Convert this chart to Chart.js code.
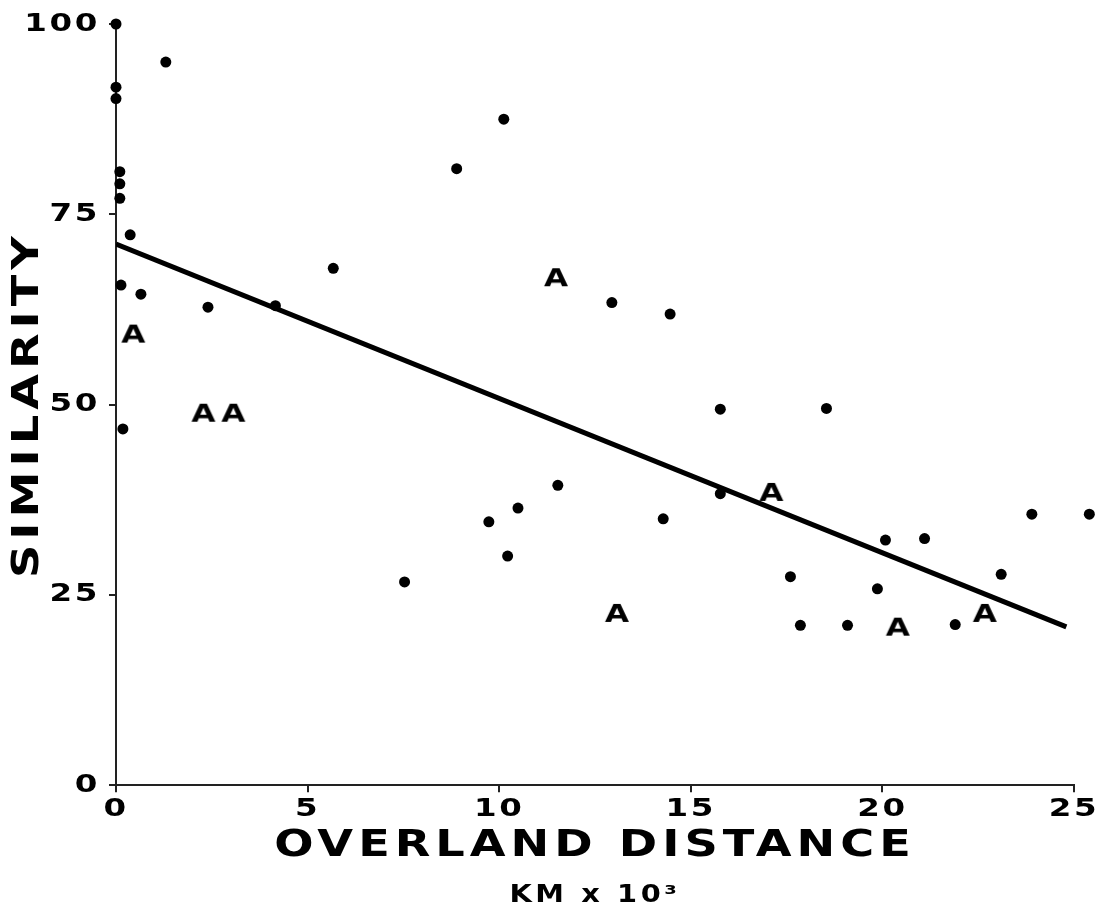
<!DOCTYPE html>
<html>
<head>
<meta charset="utf-8">
<script src="https://cdn.jsdelivr.net/npm/chart.js@4.4.1/dist/chart.umd.min.js"></script>
<style>
  body { margin: 0; background: #fff; }
  #wrap { width: 1101px; height: 910px; }
</style>
</head>
<body>
<div id="wrap"><canvas id="grafico"></canvas></div>
<script>
// pontos: distancia (km x 10^3) e similaridade
const dotX = [0, 1.3, 0, 0, 0.1, 0.1, 0.1, 0.37, 0.13, 0.65, 2.4, 4.16, 0.18, 5.67, 8.89, 10.12,
  12.94, 14.46, 7.53, 9.73, 10.49, 10.22, 11.53, 14.28, 15.77, 18.54, 15.77, 23.9, 25.4,
  20.08, 21.1, 17.6, 19.87, 23.1, 17.86, 19.09, 21.9];
const dotY = [100, 95, 91.7, 90.2, 80.6, 79, 77.1, 72.3, 65.7, 64.5, 62.8, 63, 46.8, 67.9, 81, 87.5,
  63.4, 61.9, 26.7, 34.6, 36.4, 30.1, 39.4, 35, 49.4, 49.5, 38.3, 35.6, 35.6,
  32.2, 32.4, 27.4, 25.8, 27.7, 21, 21, 21.1];

// pontos marcados com "A"
const aX = [0.45, 2.28, 3.06, 11.48, 13.07, 17.1, 20.4, 22.67];
const aY = [59.2, 48.8, 48.8, 66.6, 22.5, 38.4, 20.7, 22.5];

// reta de regressao
const lineX = [0, 24.8];
const lineY = [71.1, 20.8];

const xTicks = [0, 5, 10, 15, 20, 25];
const yTicks = [0, 25, 50, 75, 100];

const fonte = 'DejaVu Sans';

const toPoints = (xs, ys) => xs.map((x, i) => ({ x: x, y: ys[i] }));

// marcador em forma de letra A
const letraA = document.createElement('canvas');
letraA.width = 32;
letraA.height = 24;
const lctx = letraA.getContext('2d');
lctx.fillStyle = '#000';
lctx.font = 'bold 25px "' + fonte + '"';
lctx.textAlign = 'center';
lctx.textBaseline = 'middle';
lctx.translate(16, 12);
lctx.scale(1.25, 1);
lctx.fillText('A', 0, 1);

// letra larga: esticar na horizontal + espaco entre letras, por tamanho de fonte
const estilo = {
  37: { esticar: 1.25, espaco: 4 },
  25: { esticar: 1.3, espaco: 2 },
  24: { esticar: 1.2, espaco: 3 }
};

const letraLarga = {
  id: 'letraLarga',
  beforeInit(chart) {
    const ctx = chart.ctx;
    const fill = ctx.fillText;
    ctx.fillText = function (t, x, y, w) {
      const m = /(\d+)px/.exec(this.font);
      const st = m ? estilo[m[1]] : null;
      if (!st) {
        if (w === undefined) return fill.call(this, t, x, y);
        return fill.call(this, t, x, y, w);
      }
      this.save();
      this.translate(x, y);
      this.scale(st.esticar, 1);
      this.letterSpacing = st.espaco + 'px';
      fill.call(this, t, 0, 0);
      this.restore();
    };
  }
};

new Chart(document.getElementById('grafico'), {
  type: 'scatter',
  data: {
    datasets: [
      {
        label: 'regressao',
        type: 'line',
        data: toPoints(lineX, lineY),
        borderColor: '#000',
        borderWidth: 5,
        pointRadius: 0,
        fill: false
      },
      {
        label: 'pontos',
        data: toPoints(dotX, dotY),
        pointRadius: 5.5,
        backgroundColor: '#000',
        // borda transparente so para o ponto alem de 25 nao ser cortado
        borderWidth: 12,
        borderColor: 'rgba(0,0,0,0)',
        clip: false
      },
      {
        label: 'A',
        data: toPoints(aX, aY),
        pointStyle: letraA,
        clip: false
      }
    ]
  },
  options: {
    responsive: true,
    maintainAspectRatio: false,
    animation: false,
    layout: { padding: { top: 22, right: 27, bottom: 0, left: 0 } },
    plugins: {
      legend: { display: false },
      tooltip: { enabled: false },
      subtitle: {
        display: true,
        text: 'KM x 10³',
        position: 'bottom',
        fullSize: false,
        color: '#000',
        font: { family: fonte, size: 24, weight: 'bold' },
        padding: { top: 13, bottom: 0 }
      }
    },
    scales: {
      x: {
        type: 'linear',
        min: 0,
        max: 25,
        afterFit(s) { s.height = 83; },
        afterBuildTicks(s) { s.ticks = xTicks.map(v => ({ value: v })); },
        ticks: { color: '#000', padding: 2, font: { family: fonte, size: 25, weight: 'bold' } },
        grid: { drawOnChartArea: false, tickLength: 7, color: '#222', lineWidth: 2 },
        border: { color: '#222', width: 2 },
        title: {
          display: true,
          text: 'OVERLAND DISTANCE',
          color: '#000',
          font: { family: fonte, size: 37, weight: 'bold' },
          padding: { top: 0, bottom: 0 }
        }
      },
      y: {
        type: 'linear',
        min: 0,
        max: 100,
        afterFit(s) { s.width = 116; },
        afterBuildTicks(s) { s.ticks = yTicks.map(v => ({ value: v })); },
        ticks: { color: '#000', padding: 9, font: { family: fonte, size: 25, weight: 'bold' } },
        grid: { drawOnChartArea: false, tickLength: 7, color: '#222', lineWidth: 2 },
        border: { color: '#222', width: 2 },
        title: {
          display: true,
          text: 'SIMILARITY',
          color: '#000',
          font: { family: fonte, size: 37, weight: 'bold' },
          padding: { top: 6, bottom: 0 }
        }
      }
    }
  },
  plugins: [letraLarga]
});
</script>
</body>
</html>
